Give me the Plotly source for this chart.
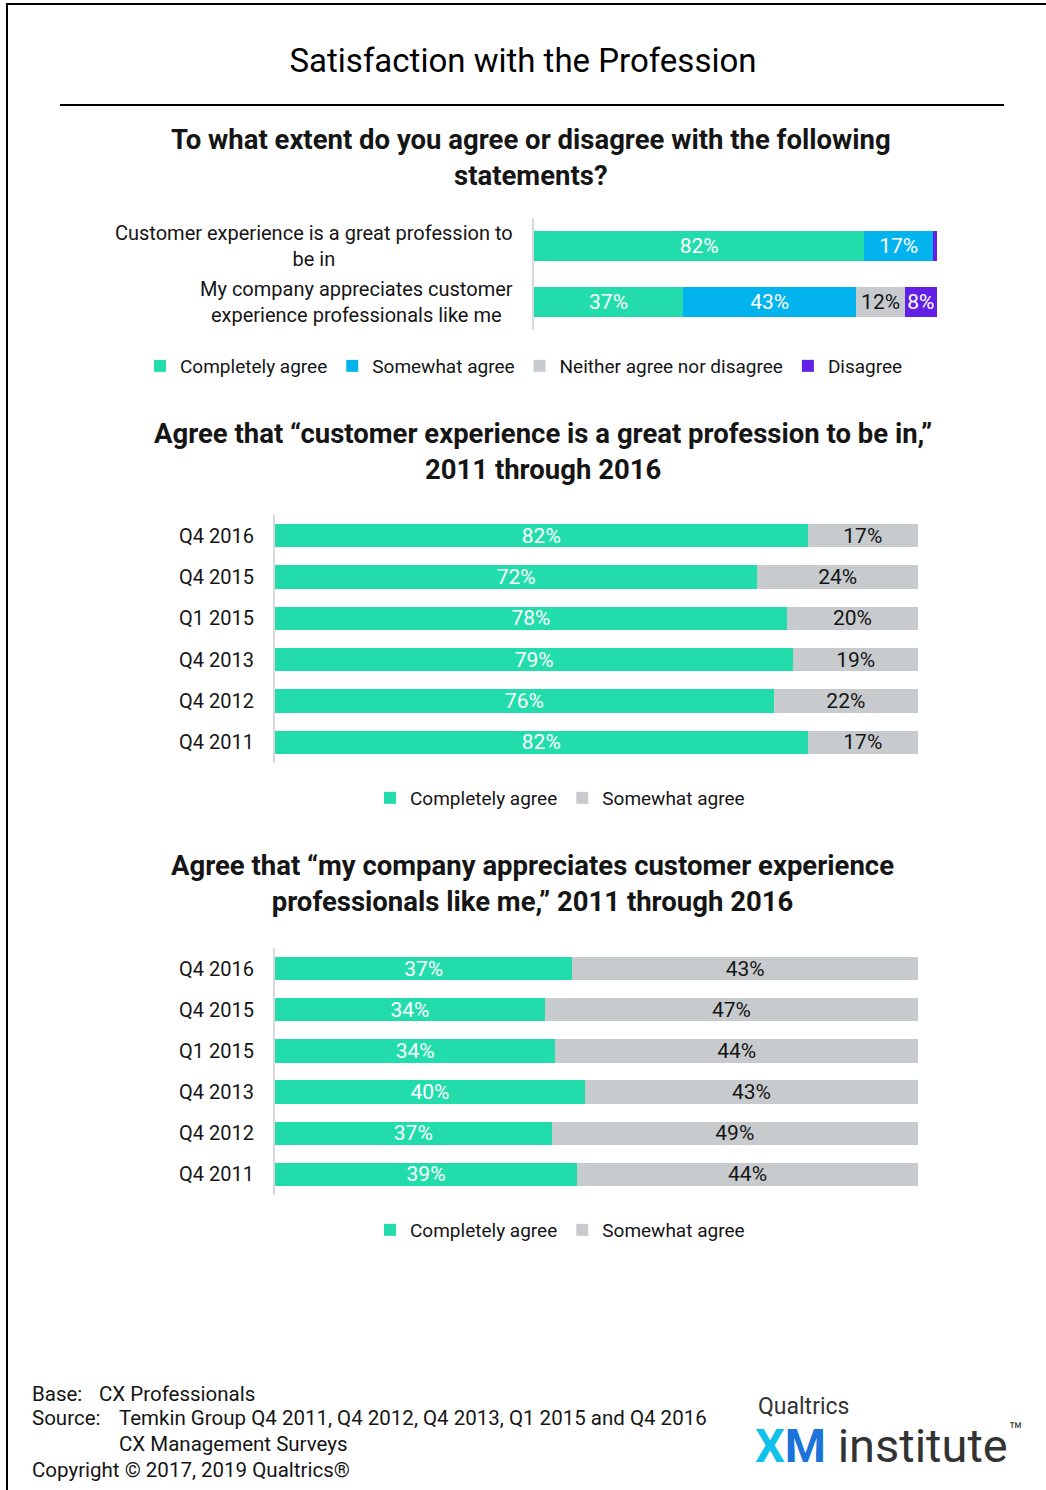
import plotly.graph_objects as go

# ---- Data -------------------------------------------------------------
statements = [
    "Customer experience is a great profession to<br>be in",
    "My company appreciates customer<br>experience professionals like me",
]
completely_agree = [82, 37]
somewhat_agree = [17, 43]
neither_agree = [0, 12]
disagree = [1, 8]

waves = ["Q4 2016", "Q4 2015", "Q1 2015", "Q4 2013", "Q4 2012", "Q4 2011"]
great_completely = [82, 72, 78, 79, 76, 82]
great_somewhat = [17, 24, 20, 19, 22, 17]
appreciated_completely = [37, 34, 34, 40, 37, 39]
appreciated_somewhat = [43, 47, 44, 43, 49, 44]

# ---- Style ------------------------------------------------------------
GREEN = "#22DDAB"
BLUE = "#02B3EE"
GRAY = "#C8CBCE"
PURPLE = "#6220E6"
INK = "#151515"
FONT = "Roboto"
W, H = 1046, 1490


def px_x(x):
    return x / W


def px_y(y):
    return 1 - y / H


def labels(values, minimum=5):
    return [f"{v}%" if v >= minimum else "" for v in values]


fig = go.Figure()


def add_bar(y, x, name, color, text_color, xa, ya, legend, width):
    fig.add_trace(go.Bar(
        y=list(range(len(y))), x=x, name=name, orientation="h",
        marker=dict(color=color, line=dict(width=0)),
        text=labels(x), textposition="inside", insidetextanchor="middle",
        constraintext="none",
        textfont=dict(color=text_color, size=21, family=FONT),
        xaxis=xa, yaxis=ya, legend=legend, width=width,
        hoverinfo="skip",
    ))


# Chart 1: agreement with the two statements
add_bar(statements, completely_agree, "Completely agree", GREEN, "white", "x", "y", "legend", 0.55)
add_bar(statements, somewhat_agree, "Somewhat agree", BLUE, "white", "x", "y", "legend", 0.55)
add_bar(statements, neither_agree, "Neither agree nor disagree", GRAY, INK, "x", "y", "legend", 0.55)
add_bar(statements, disagree, "Disagree", PURPLE, "white", "x", "y", "legend", 0.55)

# Chart 2: great profession, over time
add_bar(waves, great_completely, "Completely agree", GREEN, "white", "x2", "y2", "legend2", 0.57)
add_bar(waves, great_somewhat, "Somewhat agree", GRAY, INK, "x2", "y2", "legend2", 0.57)

# Chart 3: company appreciation, over time
add_bar(waves, appreciated_completely, "Completely agree", GREEN, "white", "x3", "y3", "legend3", 0.57)
add_bar(waves, appreciated_somewhat, "Somewhat agree", GRAY, INK, "x3", "y3", "legend3", 0.57)

xaxis_common = dict(range=[0, 100], visible=False, fixedrange=True)
yaxis_common = dict(
    autorange="reversed", showgrid=False, zeroline=False,
    showline=True, linecolor="#D9D9D9", linewidth=2,
    ticks="", tickfont=dict(size=20, color=INK, family=FONT),
    ticklabelstandoff=15, fixedrange=True,
)

legend_common = dict(
    orientation="h", font=dict(size=19, color=INK, family=FONT),
    yanchor="middle", xanchor="left", bgcolor="rgba(0,0,0,0)",
    itemclick=False, itemdoubleclick=False, traceorder="normal",
    tracegroupgap=0, itemwidth=30,
)

annotations = []

# statement labels, centred lines in a right-aligned block
for i, s in enumerate(statements):
    annotations.append(dict(
        text=s, x=px_x(515), y=i, xref="paper", yref="y",
        xanchor="right", yanchor="middle", align="center", showarrow=False,
        font=dict(size=20, color=INK, family=FONT),
    ))

subtitles = [
    ("To what extent do you agree or disagree with the following<br>statements?", 531, 158),
    ("Agree that \u201ccustomer experience is a great profession to be in,\u201d<br>2011 through 2016", 543, 451),
    ("Agree that \u201cmy company appreciates customer experience<br>professionals like me,\u201d 2011 through 2016", 532, 883),
]
for text, cx, cy in subtitles:
    annotations.append(dict(
        text=f"<b>{text}</b>", x=px_x(cx), y=px_y(cy), xref="paper", yref="paper",
        xanchor="center", yanchor="middle", align="center", showarrow=False,
        font=dict(size=27.5, color=INK, family=FONT),
    ))

footer = [
    ("Base:", 30, 1394), ("CX Professionals", 97, 1394),
    ("Source:", 30, 1418), ("Temkin Group Q4 2011, Q4 2012, Q4 2013, Q1 2015 and Q4 2016", 117, 1418),
    ("CX Management Surveys", 117, 1444),
    ("Copyright \u00a9 2017, 2019 Qualtrics\u00ae", 30, 1470),
]
for text, x, y in footer:
    annotations.append(dict(
        text=text, x=px_x(x), y=px_y(y), xref="paper", yref="paper",
        xanchor="left", yanchor="middle", showarrow=False,
        font=dict(size=20.5, color=INK, family=FONT),
    ))

# logo block
annotations += [
    dict(text="Qualtrics", x=px_x(756), y=px_y(1406), xref="paper", yref="paper",
         xanchor="left", yanchor="middle", showarrow=False,
         font=dict(size=23, color="#333333", family=FONT)),
    dict(text="<b><span style='color:#10C2EA'>X</span><span style='color:#1C74DA'>M</span></b>"
              "<span style='color:#333333'> institute</span>",
         x=px_x(753), y=px_y(1445), xref="paper", yref="paper",
         xanchor="left", yanchor="middle", showarrow=False,
         font=dict(size=47, family=FONT)),
    dict(text="\u2122", x=px_x(1016), y=px_y(1430), xref="paper", yref="paper",
         xanchor="center", yanchor="middle", showarrow=False,
         font=dict(size=22, color="#333333", family=FONT)),
]

shapes = [
    dict(type="line", xref="paper", yref="paper", x0=px_x(60), x1=px_x(1004),
         y0=px_y(105), y1=px_y(105), line=dict(color="black", width=2)),
    dict(type="line", xref="paper", yref="paper", x0=px_x(7), x1=px_x(7),
         y0=px_y(4), y1=0, line=dict(color="black", width=2)),
    dict(type="line", xref="paper", yref="paper", x0=px_x(6), x1=1,
         y0=px_y(4), y1=px_y(4), line=dict(color="black", width=2)),
]

fig.update_layout(
    width=W, height=H, margin=dict(l=0, r=0, t=0, b=0),
    paper_bgcolor="white", plot_bgcolor="white",
    barmode="stack", barnorm="percent",
    uniformtext=dict(minsize=21, mode="show"),
    font=dict(family=FONT, color=INK),
    title=dict(text="Satisfaction with the Profession", x=0.5, xanchor="center",
               y=px_y(60), yanchor="middle", font=dict(size=33, color="black", family=FONT)),
    xaxis=dict(domain=[px_x(534), px_x(937)], anchor="y", **xaxis_common),
    yaxis=dict(domain=[px_y(330), px_y(218)], anchor="x", showticklabels=False,
               **{k: v for k, v in yaxis_common.items() if k not in ("tickfont", "ticklabelstandoff")}),
    xaxis2=dict(domain=[px_x(275), px_x(918)], anchor="y2", **xaxis_common),
    yaxis2=dict(domain=[px_y(763), px_y(515)], anchor="x2",
                tickvals=list(range(len(waves))), ticktext=waves, **yaxis_common),
    xaxis3=dict(domain=[px_x(275), px_x(918)], anchor="y3", **xaxis_common),
    yaxis3=dict(domain=[px_y(1195), px_y(948)], anchor="x3",
                tickvals=list(range(len(waves))), ticktext=waves, **yaxis_common),
    legend=dict(x=px_x(140), y=px_y(366), **legend_common),
    legend2=dict(x=px_x(370), y=px_y(798), **legend_common),
    legend3=dict(x=px_x(370), y=px_y(1230), **legend_common),
    annotations=annotations,
    shapes=shapes,
    showlegend=True,
)

fig.write_html("out.html")
